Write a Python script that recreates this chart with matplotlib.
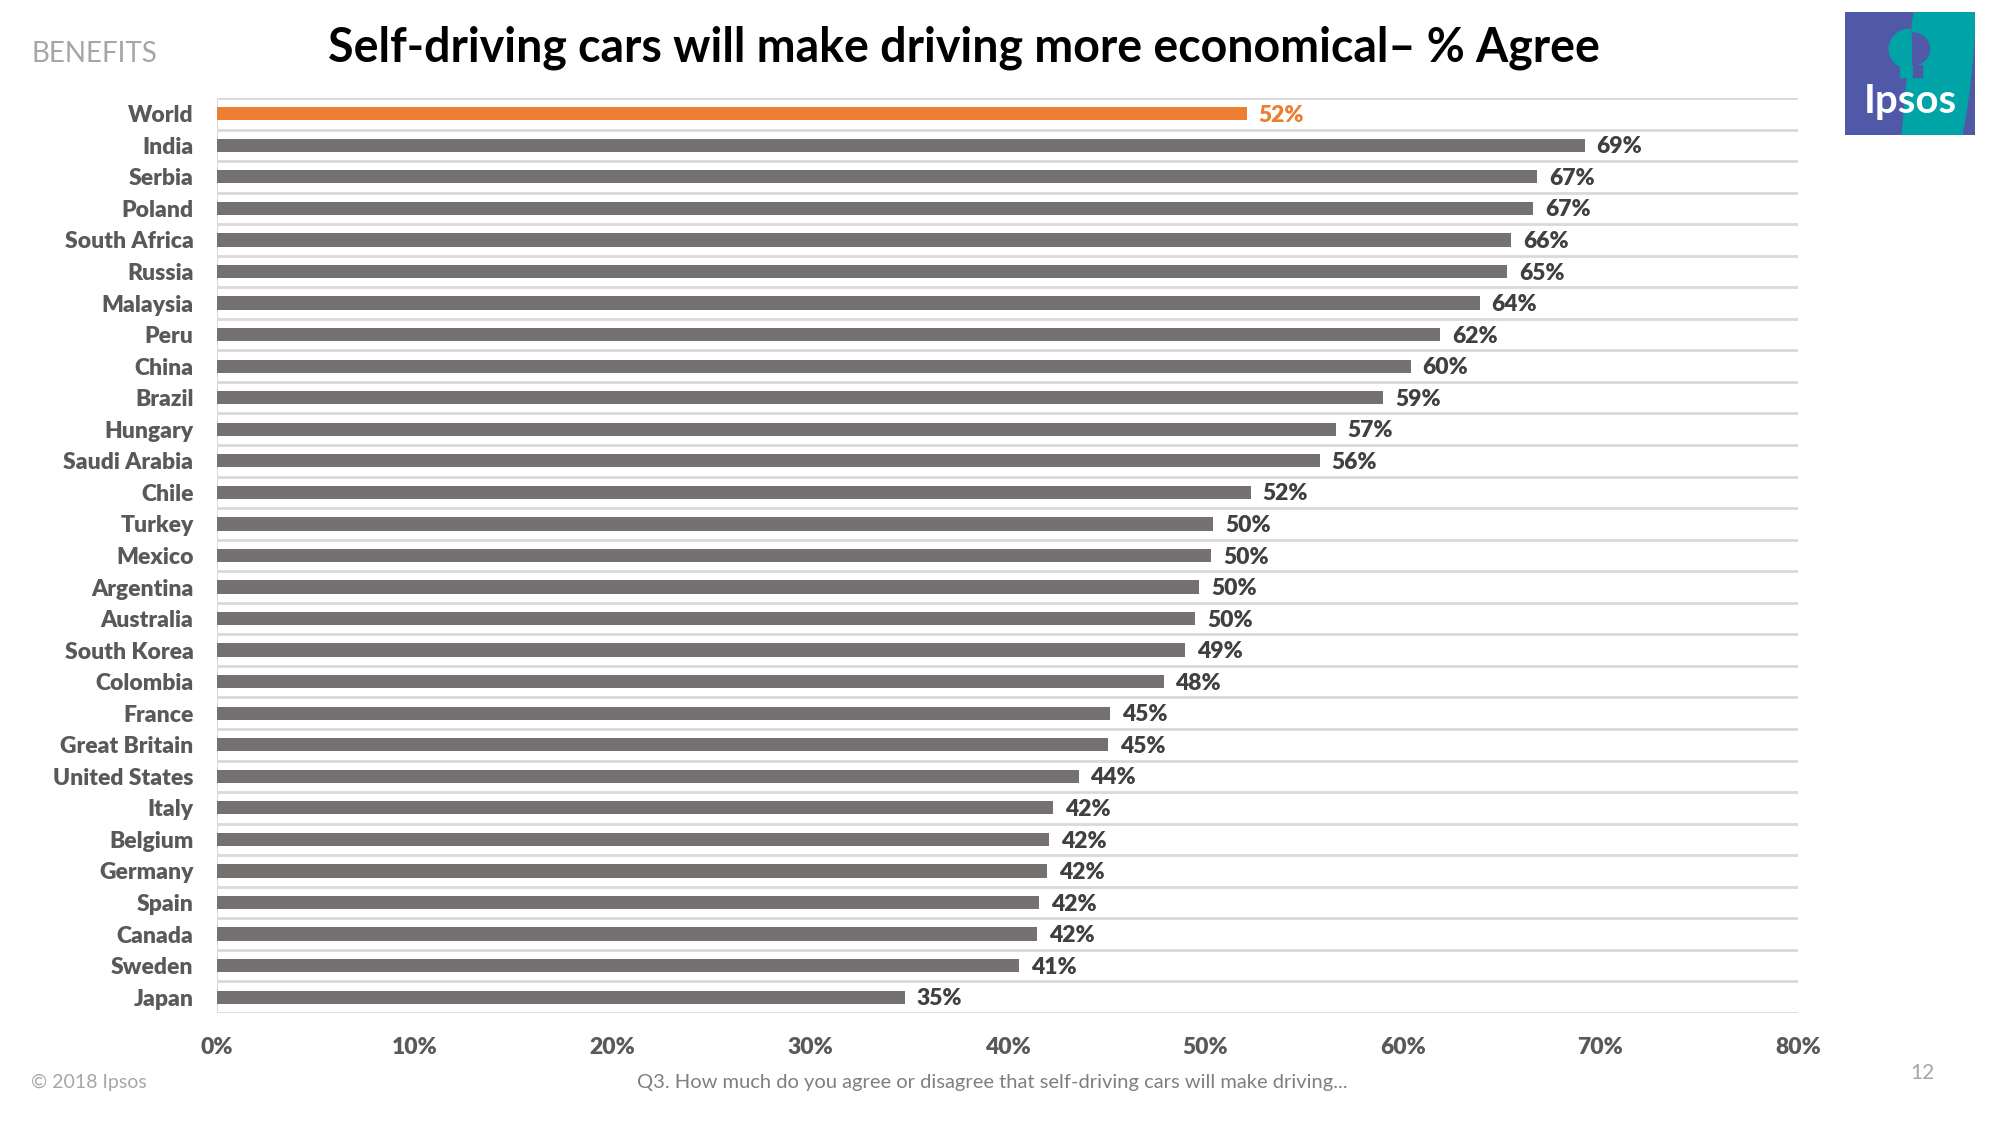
import matplotlib
matplotlib.use("Agg")
import matplotlib.pyplot as plt
from matplotlib.patches import Rectangle, Polygon, Wedge

plt.rcParams['font.family'] = ['Lato', 'DejaVu Sans']

countries = ["World", "India", "Serbia", "Poland", "South Africa", "Russia", "Malaysia",
             "Peru", "China", "Brazil", "Hungary", "Saudi Arabia", "Chile", "Turkey",
             "Mexico", "Argentina", "Australia", "South Korea", "Colombia", "France",
             "Great Britain", "United States", "Italy", "Belgium", "Germany", "Spain",
             "Canada", "Sweden", "Japan"]
values = [52.1, 69.2, 66.8, 66.6, 65.5, 65.3, 63.9, 61.9, 60.4, 59.0, 56.6, 55.8, 52.3, 50.4,
          50.3, 49.7, 49.5, 49.0, 47.9, 45.2, 45.1, 43.6, 42.3, 42.1, 42.0, 41.6, 41.5, 40.6, 34.8]
labels = ["52%", "69%", "67%", "67%", "66%", "65%", "64%", "62%", "60%", "59%", "57%", "56%",
          "52%", "50%", "50%", "50%", "50%", "49%", "48%", "45%", "45%", "44%", "42%", "42%",
          "42%", "42%", "42%", "41%", "35%"]
xticks = [0, 10, 20, 30, 40, 50, 60, 70, 80]

GREY = "#767171"
ORANGE = "#ed7d31"
W = 800  # heavy weight, close to Calibri bold

fig = plt.figure(figsize=(20, 11.25), dpi=100)
ax = fig.add_axes([0.1085, 0.0996, 0.7905, 0.8133])

y = list(range(len(countries)))
colors = [ORANGE] + [GREY] * (len(countries) - 1)
ax.barh(y, values, height=0.42, color=colors, zorder=3)

# light separators between rows
ax.hlines([i - 0.5 for i in range(len(countries) + 1)], 0, 80, color="#d9d9d9", lw=2, zorder=1)

for i, (v, lab) in enumerate(zip(values, labels)):
    ax.text(v + 0.6, i + 0.05, lab, va="center", ha="left", fontsize=16.5, fontweight=W,
            color=ORANGE if i == 0 else "#404040")

ax.set_xlim(0, 80)
ax.set_ylim(len(countries) - 0.5, -0.5)
ax.set_yticks(y)
ax.set_yticklabels(countries, fontsize=16.5, fontweight=W, color="#595959")
ax.set_xticks(xticks)
ax.set_xticklabels([f"{t}%" for t in xticks], fontsize=16.5, fontweight=W, color="#595959")
ax.tick_params(axis="y", length=0, pad=17)
ax.tick_params(axis="x", length=0, pad=17)
for s in ax.spines.values():
    s.set_visible(False)
ax.axvline(0, color="#d9d9d9", lw=1.5, zorder=2)

fig.text(0.482, 0.958, "Self-driving cars will make driving more economical\u2013 % Agree",
         ha="center", va="center", fontsize=33.5, fontweight="bold", color="black")
fig.text(0.0155, 0.952, "BENEFITS", ha="left", va="center", fontsize=20, color="#a6a6a6")
fig.text(0.0155, 0.038, "\u00a9 2018 Ipsos", ha="left", va="center", fontsize=14, color="#a6a6a6")
fig.text(0.496, 0.038, "Q3. How much do you agree or disagree that self-driving cars will make driving...",
         ha="center", va="center", fontsize=14.5, color="#7f7f7f")
fig.text(0.961, 0.046, "12", ha="center", va="center", fontsize=15, color="#a6a6a6")

# Ipsos logo
lg = fig.add_axes([0.9225, 1 - 135 / 1125, 0.065, 123 / 1125])
lg.set_xlim(0, 1)
lg.set_ylim(0, 1)
lg.axis("off")
lg.add_patch(Rectangle((0, 0), 1, 1, color="#5058a8"))
lg.add_patch(Polygon([(0.53, 1), (1.0, 1), (0.99, 0.75), (0.97, 0.5), (0.94, 0.25), (0.9, 0),
                      (0.44, 0), (0.47, 0.35), (0.5, 0.7)], closed=True, color="#00a4a6"))
lg.add_patch(Wedge((0.5, 0.7), 0.16, 90, 270, color="#00a4a6"))
lg.add_patch(Wedge((0.52, 0.7), 0.13, 270, 90, color="#5058a8"))
lg.add_patch(Rectangle((0.42, 0.47), 0.08, 0.1, color="#00a4a6"))
lg.add_patch(Rectangle((0.52, 0.47), 0.07, 0.1, color="#5058a8"))
lg.text(0.5, 0.27, "Ipsos", ha="center", va="center", fontsize=29, fontweight="bold", color="white")

fig.savefig("out.png", dpi=100)
